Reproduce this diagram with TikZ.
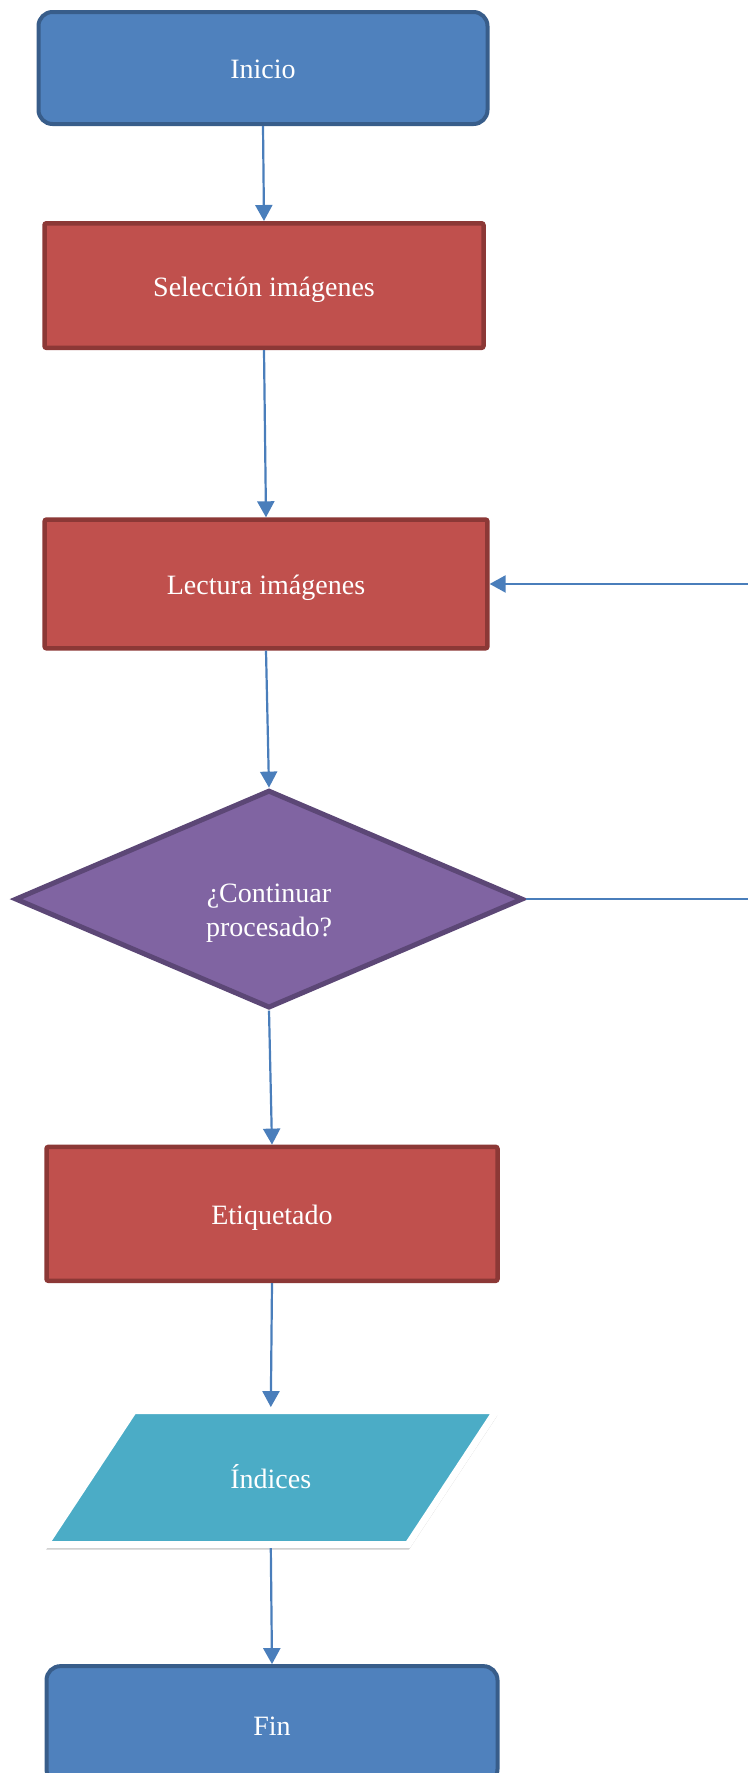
\documentclass[tikz,border=0pt]{standalone}
\usepackage{fontspec}
\setmainfont{Liberation Serif}
\usetikzlibrary{positioning}
\usetikzlibrary{arrows.meta}
\usetikzlibrary{shapes.geometric}
\usetikzlibrary{shadows}
\definecolor{termblue}{HTML}{4F81BD}
\definecolor{termedge}{HTML}{385D8A}
\definecolor{procred}{HTML}{C0504D}
\definecolor{procedge}{HTML}{8C3836}
\definecolor{decpurple}{HTML}{8064A2}
\definecolor{decedge}{HTML}{5C4776}
\definecolor{ioteal}{HTML}{4BACC6}
\definecolor{linkblue}{HTML}{4A7EBB}

\begin{document}
\begin{tikzpicture}[
    block/.style={
      text=white,
      font=\fontsize{14}{17}\selectfont,
      align=center,
      text height=13.5pt,
      text depth=3pt,
    },
    startstop/.style={
      block,
      minimum width=224.5pt,
      rounded corners=7pt,
      line width=2pt,
      draw=termedge,
      fill=termblue,
    },
    process/.style={
      block,
      minimum width=219.5pt,
      rounded corners=1pt,
      line width=2.25pt,
      draw=procedge,
      fill=procred,
    },
    decision/.style={
      block,
      diamond,
      aspect=2.32,
      minimum width=254pt,
      minimum height=109pt,
      text height=40.5pt,
      text depth=3pt,
      line width=2.5pt,
      draw=decedge,
      fill=decpurple,
    },
    inout/.style={
      block,
      trapezium,
      trapezium left angle=56.8,
      trapezium right angle=123.2,
      trapezium stretches=true,
      minimum width=226pt,
      minimum height=67pt,
      line width=3.5pt,
      draw=white,
      fill=ioteal,
      drop shadow={shadow xshift=0.5pt, shadow yshift=-2.5pt, opacity=0.4},
    },
    link/.style={
      -{Triangle[length=8pt, width=8.5pt]},
      line width=1.1pt,
      draw=linkblue,
    },
    ]
    \useasboundingbox (0,0) rectangle (374pt,-886.5pt);
    \clip (0,0) rectangle (374pt,-886.5pt);

    \node[startstop, minimum height=56pt] (inicio) at (131.5pt,-34pt) {Inicio};
    \node[process, minimum height=62.3pt, below=47.5pt of inicio, xshift=0.5pt] (seleccion) {Selección imágenes};
    \node[process, minimum width=221.4pt, minimum height=64.4pt, below=83.6pt of seleccion, xshift=1pt] (lectura) {Lectura imágenes};
    \node[decision, below=68.5pt of lectura, xshift=1.5pt] (continuar) {¿Continuar\\procesado?};
    \node[process, minimum width=225.5pt, minimum height=67pt, below=67pt of continuar, xshift=1.5pt] (etiquetado) {Etiquetado};
    \node[inout, below=62pt of etiquetado, xshift=-0.6pt] (indices) {Índices};
    \node[startstop, minimum width=225.5pt, minimum height=58.5pt, below=58pt of indices, xshift=0.6pt] (fin) {Fin};

    \draw[link] (inicio.south) -- (seleccion.north);
    \draw[link] (seleccion.south) -- (lectura.north);
    \draw[link] (lectura.south) -- (continuar.north);
    \draw[link] (continuar.south) -- (etiquetado.north);
    \draw[link] (etiquetado.south) -- (indices.north);
    \draw[link] (indices.south) -- (fin.north);
    \draw[link] (continuar.east) -- ++(130pt,0) |- (lectura.east);
  \end{tikzpicture}
\end{document}
